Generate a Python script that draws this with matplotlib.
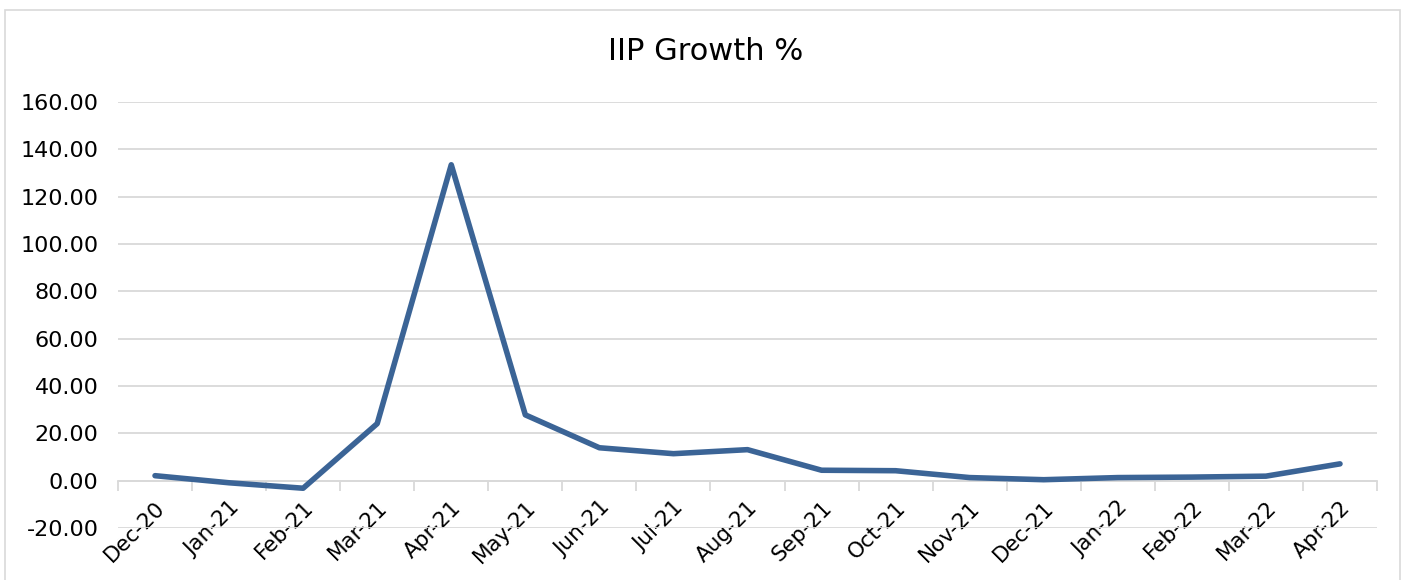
import matplotlib.pyplot as plt
from matplotlib.patches import Rectangle

# data
months = ["Dec-20", "Jan-21", "Feb-21", "Mar-21", "Apr-21", "May-21", "Jun-21",
          "Jul-21", "Aug-21", "Sep-21", "Oct-21", "Nov-21", "Dec-21", "Jan-22",
          "Feb-22", "Mar-22", "Apr-22"]
growth = [2.1, -0.9, -3.2, 24.1, 133.5, 27.8, 13.9, 11.4, 13.1, 4.4, 4.2,
          1.3, 0.4, 1.3, 1.5, 1.9, 7.1]
yticks = [-20, 0, 20, 40, 60, 80, 100, 120, 140, 160]

plt.rcParams["font.family"] = "DejaVu Sans"
fig = plt.figure(figsize=(14.08, 5.8), dpi=100)
ax = fig.add_axes([0.0838, 0.0897, 0.8942, 0.7343])

# outer chart border
fig.patches.append(Rectangle((5 / 1408, -0.01), 1395 / 1408, 1 - 10 / 580 + 0.01,
                             transform=fig.transFigure, fill=False,
                             edgecolor="#d9d9d9", linewidth=1.2))

x = list(range(len(months)))
ax.plot(x, growth, color="#3b6496", linewidth=4, solid_joinstyle="round",
        solid_capstyle="round", zorder=3)

ax.set_xlim(-0.5, len(months) - 0.5)
ax.set_ylim(-20, 160)
ax.set_yticks(yticks)
ax.set_yticklabels([f"{v:.2f}" for v in yticks], fontsize=16)
ax.yaxis.grid(True, color="#d9d9d9", linewidth=1.3)
ax.set_axisbelow(True)
ax.tick_params(axis="y", length=0, pad=14)

for side in ["left", "right", "top"]:
    ax.spines[side].set_visible(False)
ax.spines["bottom"].set_position(("data", 0))
ax.spines["bottom"].set_color("#d9d9d9")
ax.spines["bottom"].set_linewidth(1.3)

ax.set_xticks(x)
ax.set_xticklabels(months, rotation=45, ha="right", va="top",
                   rotation_mode="anchor", fontsize=15.5)
ax.set_xticks([i - 0.5 for i in range(len(months) + 1)], minor=True)
ax.tick_params(axis="x", which="major", length=0, pad=12)
ax.tick_params(axis="x", which="minor", length=7, color="#d9d9d9", width=1.3)

fig.text(0.501, 0.912, "IIP Growth %", ha="center", va="center", fontsize=22)

fig.savefig("out.png", dpi=100)
